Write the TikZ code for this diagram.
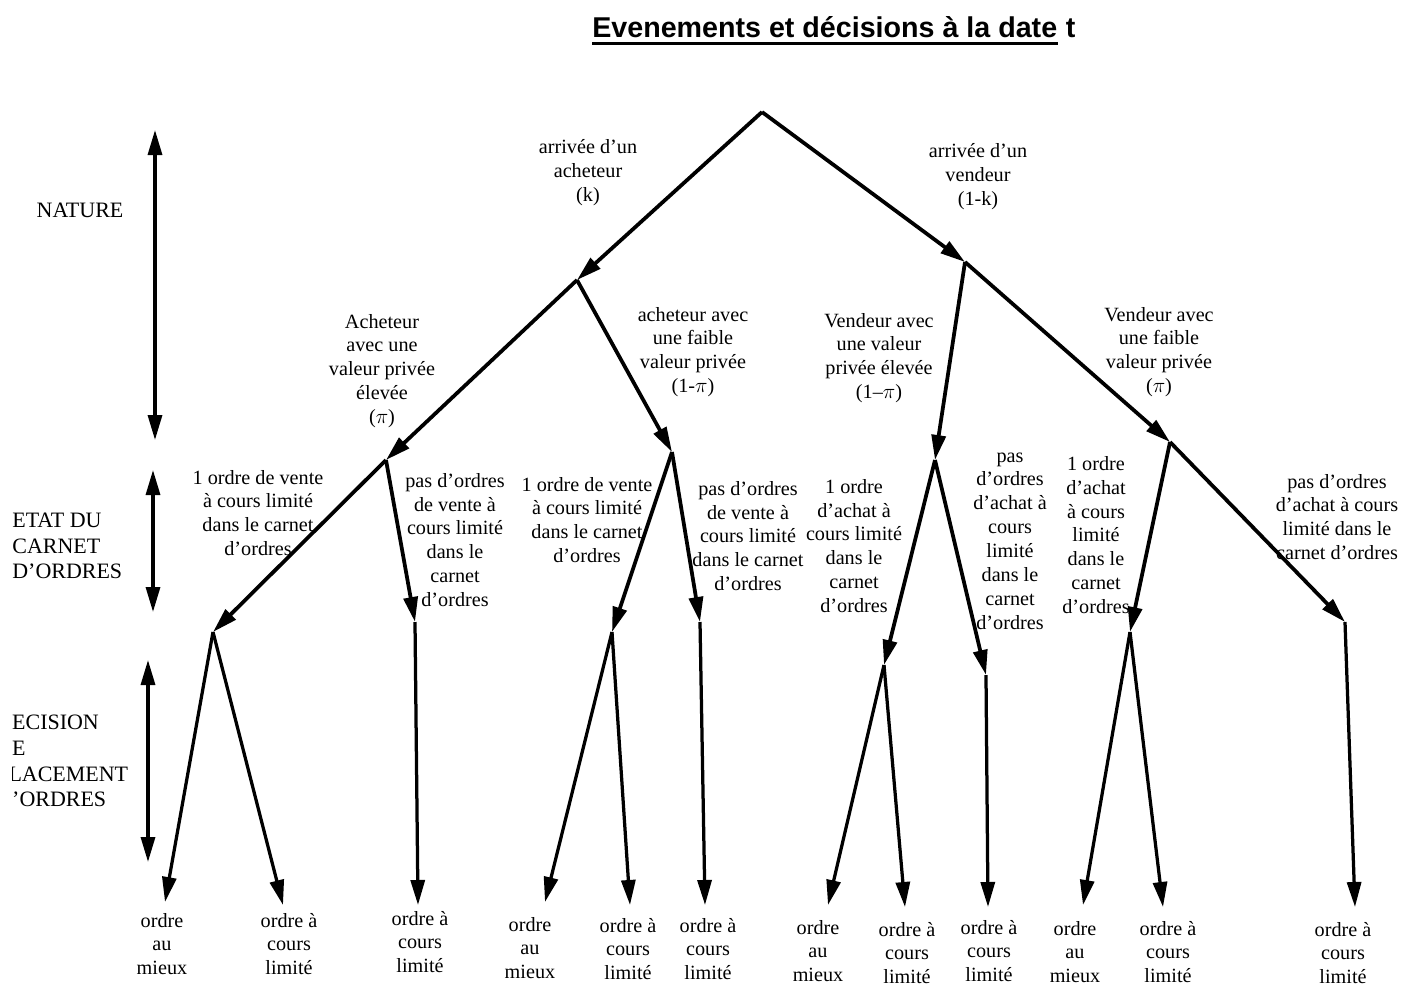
\documentclass[tikz,border=0pt]{standalone}
\usepackage{fontspec}
\setmainfont{Liberation Serif}
\newfontfamily\titlefont{Liberation Sans}
\usetikzlibrary{positioning}
\usetikzlibrary{arrows.meta}
\tikzset{>={Triangle[width=2.8mm,length=5mm]}}

\begin{document}
\begin{tikzpicture}[x=0.2mm, y=-0.2mm, branch/.style={->, line width=0.75mm}, leafarrow/.style={->, line width=0.65mm}, axis/.style={<->, line width=0.65mm}, lbl/.style={align=center, inner sep=0pt, font=\fontsize{11.5}{13.6}\selectfont}, sidelbl/.style={align=left, anchor=west, inner sep=0pt, font=\fontsize{12.5}{14.7}\selectfont}, titletext/.style={inner sep=0pt, font=\titlefont\bfseries\fontsize{16.3}{19}\selectfont}]

    \useasboundingbox (0,0) rectangle (1410,985);

    %Title
    \node[titletext, anchor=base west](title) at (592,37){Evenements et décisions à la date};
    \node[titletext](tee)[base right=1.6mm of title]{t};
    \draw[line width=0.6mm] ([yshift=-1.3mm]title.base west) -- ([yshift=-1.3mm]title.base east);

    %Side labels
    \node[sidelbl, anchor=center](nature) at (80,210){NATURE};
    \node[sidelbl](etat) at (12,546){ETAT DU\\CARNET\\D'ORDRES};
    \begin{scope}
        \clip (12,680) rectangle (220,840);
        \node[sidelbl](decision) at (-4,761){DECISION\\DE\\PLACEMENT\\D'ORDRES};
    \end{scope}

    %Side arrows
    \coordinate (nat top) at (155,130);
    \coordinate (nat bot) at (155,440);
    \coordinate (etat top) at (153,470);
    \coordinate (etat bot) at (153,612);
    \coordinate (dec top) at (148,660);
    \coordinate (dec bot) at (148,862);
    \draw[axis] (nat top) -- (nat bot);
    \draw[axis] (etat top) -- (etat bot);
    \draw[axis] (dec top) -- (dec bot);

    %Tree points
    \coordinate (root) at (762,112);
    \coordinate (buyer) at (577,280);
    \coordinate (seller) at (965,262);
    \coordinate (buyer high) at (386,460);
    \coordinate (buyer low) at (672,452);
    \coordinate (seller high) at (935,460);
    \coordinate (seller low) at (1170,442);
    \coordinate (bh book) at (213,632);
    \coordinate (bh empty) at (415,622);
    \coordinate (bl book) at (612,632);
    \coordinate (bl empty) at (700,622);
    \coordinate (sh book) at (884,665);
    \coordinate (sh empty) at (986,675);
    \coordinate (sl book) at (1130,632);
    \coordinate (sl empty) at (1345,622);

    %Leaves
    \coordinate (leaf1) at (165,902);
    \coordinate (leaf2) at (283,905);
    \coordinate (leaf3) at (418,905);
    \coordinate (leaf4) at (545,902);
    \coordinate (leaf5) at (630,905);
    \coordinate (leaf6) at (705,905);
    \coordinate (leaf7) at (828,905);
    \coordinate (leaf8) at (905,907);
    \coordinate (leaf9) at (988,907);
    \coordinate (leaf10) at (1083,905);
    \coordinate (leaf11) at (1163,907);
    \coordinate (leaf12) at (1355,907);

    %Branch labels
    \node[lbl](arr buyer) at (588,173){arrivée d'un\\acheteur\\(k)};
    \node[lbl](arr seller) at (978,177){arrivée d'un\\vendeur\\(1-k)};
    \node[lbl](bh lbl) at (382,371){Acheteur\\avec une\\valeur privée\\élevée\\($\pi$)};
    \node[lbl](bl lbl) at (693,352){acheteur avec\\une faible\\valeur privée\\(1-$\pi$)};
    \node[lbl](sh lbl) at (879,358){Vendeur avec\\une valeur\\privée élevée\\(1--$\pi$)};
    \node[lbl](sl lbl) at (1159,352){Vendeur avec\\une faible\\valeur privée\\($\pi$)};
    \node[lbl](bh book lbl) at (258,513){1 ordre de vente\\à cours limité\\dans le carnet\\d'ordres};
    \node[lbl](bh empty lbl) at (455,540){pas d'ordres\\de vente à\\cours limité\\dans le\\carnet\\d'ordres};
    \node[lbl](bl book lbl) at (587,520){1 ordre de vente\\à cours limité\\dans le carnet\\d'ordres};
    \node[lbl](bl empty lbl) at (748,536){pas d'ordres\\de vente à\\cours limité\\dans le carnet\\d'ordres};
    \node[lbl](sh book lbl) at (854,546){1 ordre\\d'achat à\\cours limité\\dans le\\carnet\\d'ordres};
    \node[lbl](sh empty lbl) at (1010,541){pas\\d'ordres\\d'achat à\\cours\\limité\\dans le\\carnet\\d'ordres};
    \node[lbl](sl book lbl) at (1096,535){1 ordre\\d'achat\\à cours\\limité\\dans le\\carnet\\d'ordres};
    \node[lbl](sl empty lbl) at (1337,517){pas d'ordres\\d'achat à cours\\limité dans le\\carnet d'ordres};

    %Leaf labels
    \node[lbl](leaf1 lbl) at (162,944){ordre\\au\\mieux};
    \node[lbl](leaf2 lbl) at (289,944){ordre à\\cours\\limité};
    \node[lbl](leaf3 lbl) at (420,942){ordre à\\cours\\limité};
    \node[lbl](leaf4 lbl) at (530,948){ordre\\au\\mieux};
    \node[lbl](leaf5 lbl) at (628,949){ordre à\\cours\\limité};
    \node[lbl](leaf6 lbl) at (708,949){ordre à\\cours\\limité};
    \node[lbl](leaf7 lbl) at (818,951){ordre\\au\\mieux};
    \node[lbl](leaf8 lbl) at (907,953){ordre à\\cours\\limité};
    \node[lbl](leaf9 lbl) at (989,951){ordre à\\cours\\limité};
    \node[lbl](leaf10 lbl) at (1075,952){ordre\\au\\mieux};
    \node[lbl](leaf11 lbl) at (1168,952){ordre à\\cours\\limité};
    \node[lbl](leaf12 lbl) at (1343,953){ordre à\\cours\\limité};

    %Lines
    \draw[branch] (root) -- (buyer);
    \draw[branch] (root) -- (seller);
    \draw[branch] (buyer) -- (buyer high);
    \draw[branch] (buyer) -- (buyer low);
    \draw[branch] (seller) -- (seller high);
    \draw[branch] (seller) -- (seller low);
    \draw[branch] (buyer high) -- (bh book);
    \draw[branch] (buyer high) -- (bh empty);
    \draw[branch] (buyer low) -- (bl book);
    \draw[branch] (buyer low) -- (bl empty);
    \draw[branch] (seller high) -- (sh book);
    \draw[branch] (seller high) -- (sh empty);
    \draw[branch] (seller low) -- (sl book);
    \draw[branch] (seller low) -- (sl empty);
    \draw[leafarrow] (bh book) -- (leaf1);
    \draw[leafarrow] (bh book) -- (leaf2);
    \draw[leafarrow] (bh empty) -- (leaf3);
    \draw[leafarrow] (bl book) -- (leaf4);
    \draw[leafarrow] (bl book) -- (leaf5);
    \draw[leafarrow] (bl empty) -- (leaf6);
    \draw[leafarrow] (sh book) -- (leaf7);
    \draw[leafarrow] (sh book) -- (leaf8);
    \draw[leafarrow] (sh empty) -- (leaf9);
    \draw[leafarrow] (sl book) -- (leaf10);
    \draw[leafarrow] (sl book) -- (leaf11);
    \draw[leafarrow] (sl empty) -- (leaf12);

\end{tikzpicture}
\end{document}
